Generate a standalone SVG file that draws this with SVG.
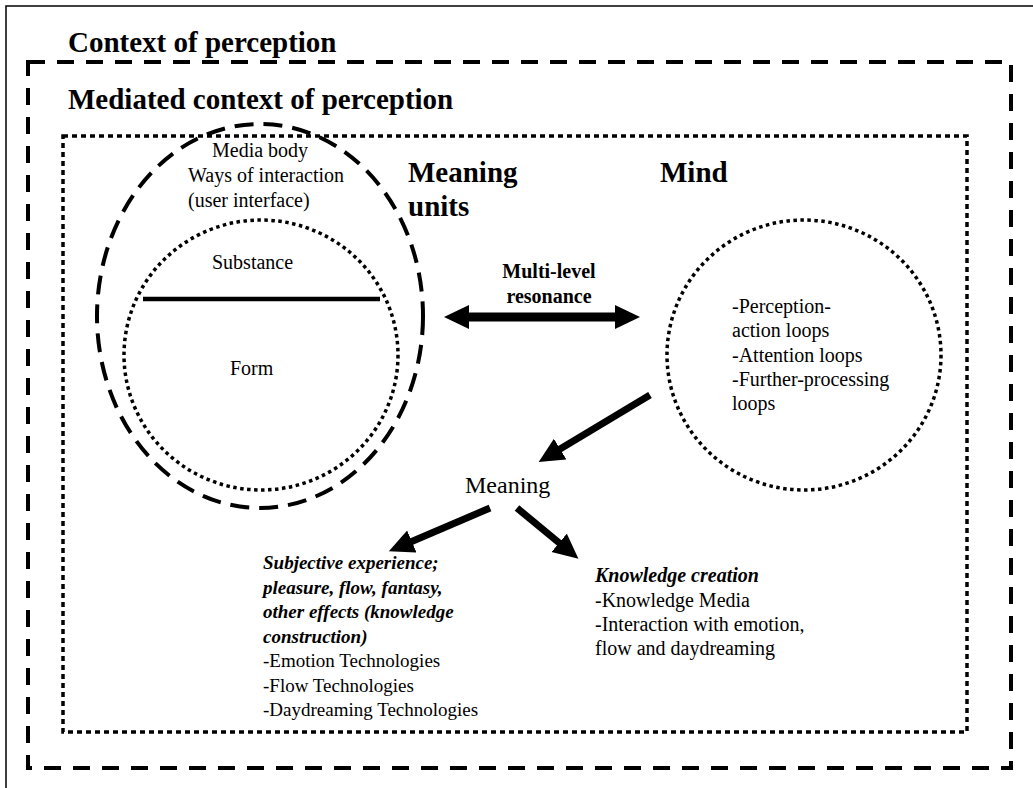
<svg xmlns="http://www.w3.org/2000/svg" width="1033" height="788" viewBox="0 0 1033 788">
  <style>
    .serif { font-family: "Liberation Serif", "Times New Roman", serif; fill: #000; }
    .head { font-size: 29px; font-weight: bold; }
    .body20 { font-size: 20px; }
    .body19 { font-size: 19px; }
    .dashed-outer { fill: none; stroke: #000; stroke-width: 4; stroke-dasharray: 17 12; }
    .dotted-rect { fill: none; stroke: #000; stroke-width: 3.5; stroke-dasharray: 5 4; }
    .dashed-ring { fill: none; stroke: #000; stroke-width: 4; stroke-dasharray: 19 10; }
    .dotted-ring { fill: none; stroke: #000; stroke-width: 3.5; stroke-dasharray: 3.5 3.5; }
    .arrow { fill: none; stroke: #000; stroke-width: 7; }
    .arrow-thick { fill: none; stroke: #000; stroke-width: 9; }
  </style>
  <defs>
    <marker id="head" markerUnits="userSpaceOnUse" markerWidth="26" markerHeight="26" viewBox="0 0 26 26" refX="2" refY="12" orient="auto-start-reverse">
      <path d="M0,0 L25,12 L0,24 z" fill="#000"/>
    </marker>
  </defs>

  <rect width="1033" height="788" fill="#fff"/>

  <!-- page frame (top and left edges) -->
  <path d="M6,790 V6 H1035" fill="none" stroke="#000" stroke-width="1.5"/>

  <g id="context-of-perception">
    <rect class="dashed-outer" x="28" y="62" width="983" height="706"/>
    <text class="serif head" x="68" y="52">Context of perception</text>
  </g>

  <g id="mediated-context">
    <rect class="dotted-rect" x="63" y="136" width="904" height="596"/>
    <text class="serif head" x="68" y="109">Mediated context of perception</text>
  </g>

  <g id="media-body">
    <ellipse class="dashed-ring" cx="260" cy="316" rx="163" ry="192"/>
    <text class="serif body20" x="212" y="157">Media body</text>
    <text class="serif body20" x="188" y="182">Ways of interaction</text>
    <text class="serif body20" x="188" y="207">(user interface)</text>
  </g>

  <g id="substance-form">
    <ellipse class="dotted-ring" cx="261" cy="355" rx="137" ry="135"/>
    <line x1="143" y1="299" x2="380" y2="299" stroke="#000" stroke-width="4.5"/>
    <text class="serif body20" x="212" y="269">Substance</text>
    <text class="serif body20" x="230" y="375">Form</text>
  </g>

  <g id="meaning-units">
    <text class="serif head" x="408" y="182">Meaning</text>
    <text class="serif head" x="408" y="216">units</text>
  </g>

  <g id="mind">
    <text class="serif head" x="660" y="182">Mind</text>
    <ellipse class="dotted-ring" cx="804" cy="355" rx="137" ry="135"/>
    <text class="serif body20" x="732" y="313">-Perception-</text>
    <text class="serif body20" x="732" y="337">action loops</text>
    <text class="serif body20" x="732" y="362">-Attention loops</text>
    <text class="serif body20" x="732" y="386">-Further-processing</text>
    <text class="serif body20" x="732" y="410">loops</text>
  </g>

  <g id="resonance-label">
    <text class="serif body20" font-weight="bold" text-anchor="middle" x="549" y="278">Multi-level</text>
    <text class="serif body20" font-weight="bold" text-anchor="middle" x="549" y="303">resonance</text>
  </g>

  <g id="meaning">
    <text class="serif" font-size="24" x="465" y="493">Meaning</text>
  </g>

  <g id="subjective-experience">
    <text class="serif body19" font-weight="bold" font-style="italic" x="263" y="569">Subjective experience;</text>
    <text class="serif body19" font-weight="bold" font-style="italic" x="263" y="593.5">pleasure, flow, fantasy,</text>
    <text class="serif body19" font-weight="bold" font-style="italic" x="263" y="618">other effects (knowledge</text>
    <text class="serif body19" font-weight="bold" font-style="italic" x="263" y="642.5">construction)</text>
    <text class="serif body19" x="263" y="667">-Emotion Technologies</text>
    <text class="serif body19" x="263" y="691.5">-Flow Technologies</text>
    <text class="serif body19" x="263" y="716">-Daydreaming Technologies</text>
  </g>

  <g id="knowledge-creation">
    <text class="serif body20" font-weight="bold" font-style="italic" x="595" y="582">Knowledge creation</text>
    <text class="serif body20" x="595" y="606.5">-Knowledge Media</text>
    <text class="serif body20" x="595" y="631">-Interaction with emotion,</text>
    <text class="serif body20" x="595" y="655">flow and daydreaming</text>
  </g>

  <g id="connectors">
    <!-- two-way resonance between meaning units and mind -->
    <line class="arrow-thick" x1="467" y1="317" x2="617" y2="317" marker-start="url(#head)" marker-end="url(#head)"/>
    <!-- mind to meaning -->
    <line class="arrow" x1="650" y1="395" x2="558.4" y2="450.1" marker-end="url(#head)"/>
    <!-- meaning to subjective experience -->
    <line class="arrow" x1="490" y1="508" x2="410" y2="542.2" marker-end="url(#head)"/>
    <!-- meaning to knowledge creation -->
    <line class="arrow" x1="517" y1="508" x2="560.7" y2="544.1" marker-end="url(#head)"/>
  </g>
</svg>
